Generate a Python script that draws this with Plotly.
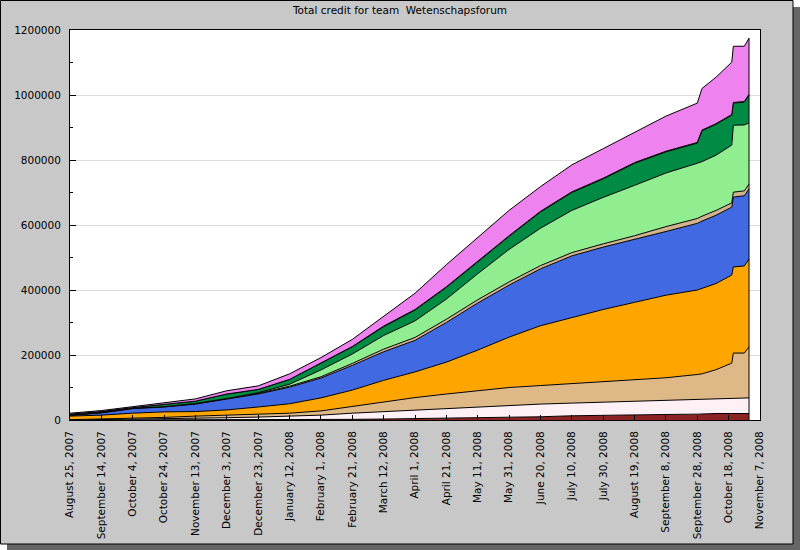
import plotly.graph_objects as go

# Dates of the samples
dates = ["2007-08-25", "2007-09-14", "2007-10-04", "2007-10-24", "2007-11-13",
         "2007-12-03", "2007-12-23", "2008-01-12", "2008-02-01", "2008-02-21",
         "2008-03-12", "2008-04-01", "2008-04-21", "2008-05-11", "2008-05-31",
         "2008-06-20", "2008-07-10", "2008-07-30", "2008-08-19", "2008-09-08",
         "2008-09-28", "2008-10-01", "2008-10-10", "2008-10-20", "2008-10-21",
         "2008-10-28", "2008-10-31"]

K = 1000
# Cumulative level (top edge) of each stacked member, in thousands of credit
top_member1 = [0, 0, 0, 0, 0, 0, 0, 0, 0, 2, 3, 4, 6, 8, 9, 10, 13, 15, 16, 17, 18, 19, 20, 20, 20, 20, 20]
top_member2 = [0, 1, 2, 3, 5, 7, 9, 12, 15, 21, 26, 31, 36, 41, 46, 49, 52, 55, 58, 60, 62, 63, 64, 66, 67, 67, 68]
top_member3 = [1, 3, 6, 8, 12, 15, 18, 21, 28, 42, 55, 69, 80, 90, 100, 106, 112, 117, 123, 130, 140, 142, 155, 175, 206, 206, 225]
top_member4 = [12, 15, 21, 25, 26, 31, 40, 50, 68, 92, 122, 148, 178, 215, 255, 290, 315, 340, 362, 384, 400, 405, 420, 446, 471, 474, 495]
top_member5 = [14, 22, 35, 40, 49, 64, 80, 101, 129, 168, 210, 245, 300, 360, 415, 465, 505, 532, 555, 580, 605, 612, 630, 655, 686, 690, 711]
top_member6 = [15, 23, 36, 41, 50, 65, 82, 104, 133, 174, 218, 254, 310, 370, 425, 475, 515, 542, 567, 595, 620, 627, 645, 668, 701, 705, 726]
top_member7 = [15, 23, 36, 41, 51, 66, 84, 110, 154, 203, 260, 305, 372, 450, 525, 590, 645, 685, 722, 760, 790, 795, 815, 846, 907, 908, 914]
top_member8 = [18, 26, 38, 47, 58, 80, 94, 125, 175, 225, 287, 338, 408, 487, 565, 640, 700, 742, 790, 825, 852, 890, 910, 938, 975, 978, 1000]
top_member9 = [18, 26, 38, 47, 58, 80, 94, 125, 175, 226, 289, 340, 410, 489, 567, 642, 702, 744, 792, 827, 854, 892, 912, 940, 977, 980, 1002]
top_member10 = [21, 29, 41, 52, 65, 90, 105, 142, 192, 248, 320, 390, 478, 560, 645, 718, 785, 835, 885, 935, 975, 1020, 1055, 1101, 1150, 1150, 1175]

levels = [top_member1, top_member2, top_member3, top_member4, top_member5,
          top_member6, top_member7, top_member8, top_member9, top_member10]
colors = ["#8b2323", "#fff0f5", "#deb887", "#ffa500", "#4169e1",
          "#d2b48c", "#90ee90", "#008b45", "#fa8072", "#ee82ee"]

# x tick labels (every 20 days)
tick_dates = ["2007-08-25", "2007-09-14", "2007-10-04", "2007-10-24", "2007-11-13",
              "2007-12-03", "2007-12-23", "2008-01-12", "2008-02-01", "2008-02-21",
              "2008-03-12", "2008-04-01", "2008-04-21", "2008-05-11", "2008-05-31",
              "2008-06-20", "2008-07-10", "2008-07-30", "2008-08-19", "2008-09-08",
              "2008-09-28", "2008-10-18", "2008-11-07"]
tick_labels = ["August 25, 2007", "September 14, 2007", "October 4, 2007", "October 24, 2007",
               "November 13, 2007", "December 3, 2007", "December 23, 2007", "January 12, 2008",
               "February 1, 2008", "February 21, 2008", "March 12, 2008", "April 1, 2008",
               "April 21, 2008", "May 11, 2008", "May 31, 2008", "June 20, 2008",
               "July 10, 2008", "July 30, 2008", "August 19, 2008", "September 8, 2008",
               "September 28, 2008", "October 18, 2008", "November 7, 2008"]

fig = go.Figure()
for i, (lvl, col) in enumerate(zip(levels, colors)):
    fig.add_trace(go.Scatter(
        x=dates, y=[v * K for v in lvl], mode="lines",
        line=dict(color="black", width=1),
        fill="tozeroy" if i == 0 else "tonexty", fillcolor=col,
        showlegend=False, hoverinfo="x+y"))

# closing vertical edge at the last sample
fig.add_trace(go.Scatter(x=[dates[-1], dates[-1]], y=[0, top_member10[-1] * K],
                         mode="lines", line=dict(color="black", width=1),
                         showlegend=False, hoverinfo="skip"))

W, H = 800, 550
ml, mr, mt, mb = 70, 40, 30, 130
pw, ph = W - ml - mr, H - mt - mb

def px(x):
    return (x - ml) / pw

def py(y):
    return (H - mb - y) / ph

shapes = [
    dict(type="rect", xref="paper", yref="paper", layer="below",
         x0=px(7), x1=px(800), y0=py(550), y1=py(7),
         fillcolor="#666666", line=dict(width=0)),
    dict(type="rect", xref="paper", yref="paper", layer="below",
         x0=px(0.5), x1=px(793), y0=py(544), y1=py(0.5),
         fillcolor="#c8c8c8", line=dict(color="black", width=1)),
    dict(type="rect", xref="paper", yref="paper", layer="below",
         x0=0, x1=1, y0=0, y1=1,
         fillcolor="white", line=dict(width=0)),
]

font = "DejaVu Sans"
fig.update_layout(
    width=W, height=H,
    margin=dict(l=ml, r=mr, t=mt, b=mb),
    paper_bgcolor="white", plot_bgcolor="white",
    shapes=shapes,
    title=dict(text="Total credit for team\u00a0 Wetenschapsforum",
               x=0.5, xref="container", xanchor="center",
               y=1 - 10 / H, yref="container", yanchor="middle",
               font=dict(family=font, size=10.5, color="black")),
    font=dict(family=font, size=10.5, color="black"),
    xaxis=dict(type="date", range=["2007-08-25", "2008-11-07"],
               tickmode="array", tickvals=tick_dates, ticktext=tick_labels,
               tickangle=-90, ticks="inside", ticklen=5, tickcolor="black",
               showgrid=False, zeroline=False,
               showline=True, linecolor="black", linewidth=1, mirror=True,
               ticklabelstandoff=6,
               tickfont=dict(family=font, size=10.5, color="black")),
    yaxis=dict(range=[0, 1200000], dtick=200000, tick0=0, tickformat="d",
               ticks="inside", ticklen=6, tickcolor="black",
               showgrid=True, gridcolor="#dcdcdc", gridwidth=1, zeroline=False,
               showline=True, linecolor="black", linewidth=1, mirror=True,
               ticklabelstandoff=6,
               minor=dict(dtick=100000, ticks="inside", ticklen=3,
                          tickcolor="black", showgrid=False),
               tickfont=dict(family=font, size=10.5, color="black")),
)

fig.write_html("out.html", config={"displayModeBar": False},
               post_script="document.body.style.margin='0';document.body.style.padding='0';")
